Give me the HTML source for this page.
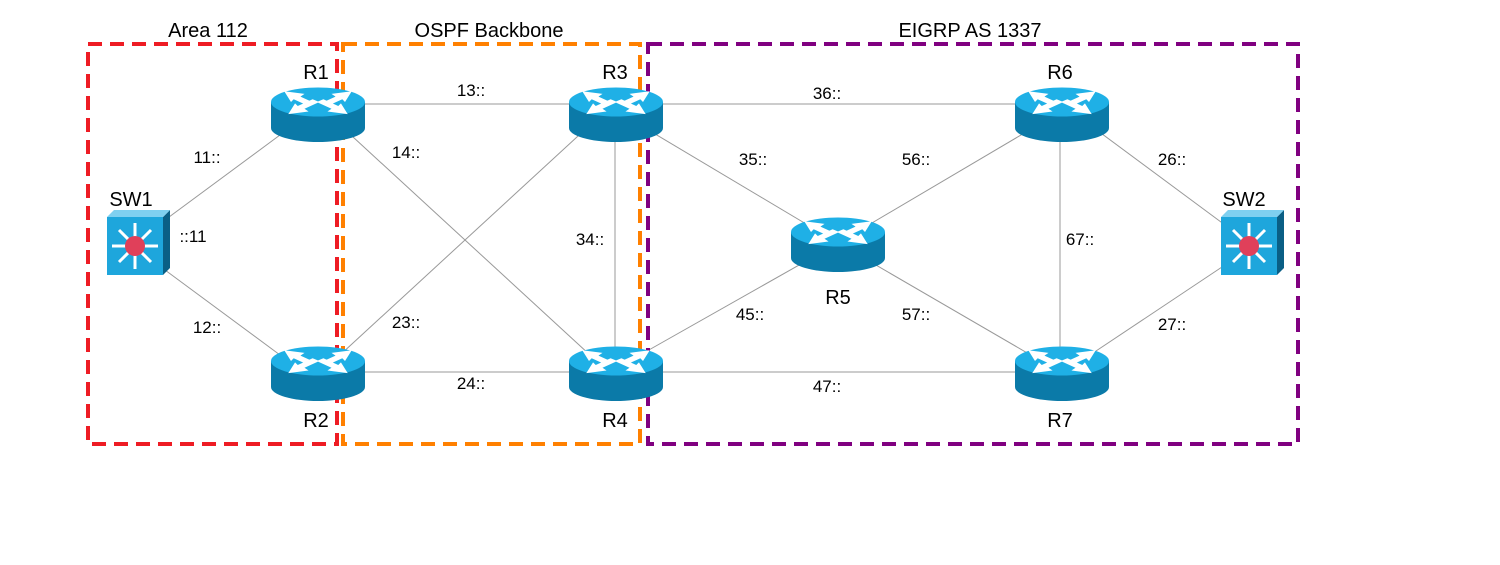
<!DOCTYPE html>
<html><head><meta charset="utf-8"><style>
html,body{margin:0;padding:0;background:#fff}
svg{display:block}
text{font-family:"Liberation Sans",sans-serif;fill:#000}
</style></head><body>
<svg width="1500" height="565" viewBox="0 0 1500 565" xmlns="http://www.w3.org/2000/svg">
<defs>
<g id="rt">
  <path d="M-47,0 L-47,26 A47,14 0 0 0 47,26 L47,0 Z" fill="#0b7aa8"/>
  <ellipse cx="0" cy="0" rx="47" ry="14.5" fill="#1fb0e6"/>
  <g fill="#fff" transform="scale(1.35)">
    <path d="M-25,-8 L-10,-6 L-13,-4 L-2,1 L-7,3 L-18,-2 L-20,0 Z"/>
    <path d="M25,-8 L10,-6 L13,-4 L2,1 L7,3 L18,-2 L20,0 Z"/>
    <path d="M-25,9 L-10,7 L-13,5 L-2,0 L-7,-2 L-18,3 L-20,1 Z" transform="translate(3,0)"/>
    <path d="M25,9 L10,7 L13,5 L2,0 L7,-2 L18,3 L20,1 Z" transform="translate(-3,0)"/>
  </g>
</g>
<g id="sw">
  <polygon points="28,0 35,-7 35,51 28,58" fill="#0a5f85"/>
  <polygon points="-28,0 -21,-7 35,-7 28,0" fill="#7fd0f0"/>
  <rect x="-28" y="0" width="56" height="58" fill="#1ea6dc"/>
  <g stroke="#fff" stroke-width="3" fill="none">
    <line x1="0" y1="29" x2="0" y2="6"/><line x1="0" y1="29" x2="0" y2="52"/>
    <line x1="0" y1="29" x2="-23" y2="29"/><line x1="0" y1="29" x2="23" y2="29"/>
    <line x1="0" y1="29" x2="-16" y2="13"/><line x1="0" y1="29" x2="16" y2="13"/>
    <line x1="0" y1="29" x2="-16" y2="45"/><line x1="0" y1="29" x2="16" y2="45"/>
  </g>
  <circle cx="0" cy="29" r="10" fill="#e0405a"/>
</g>
</defs>
<g stroke="#999" stroke-width="1">
  <line x1="316" y1="104" x2="615" y2="104"/>
  <line x1="615" y1="104" x2="1060" y2="104"/>
  <line x1="316" y1="372" x2="615" y2="372"/>
  <line x1="615" y1="372" x2="1060" y2="372"/>
  <line x1="280" y1="135" x2="165" y2="220"/>
  <line x1="280" y1="355" x2="165" y2="270"/>
  <line x1="340" y1="125" x2="590" y2="355"/>
  <line x1="590" y1="125" x2="340" y2="355"/>
  <line x1="615" y1="125" x2="615" y2="355"/>
  <line x1="640" y1="125" x2="838" y2="243"/>
  <line x1="640" y1="355" x2="838" y2="243"/>
  <line x1="1060" y1="112" x2="838" y2="243"/>
  <line x1="1060" y1="372" x2="838" y2="243"/>
  <line x1="1060" y1="112" x2="1060" y2="372"/>
  <line x1="1090" y1="125" x2="1225" y2="225"/>
  <line x1="1090" y1="355" x2="1225" y2="265"/>
</g>
<g fill="none" stroke-width="4" stroke-dasharray="14,8">
  <rect x="88" y="44" width="249" height="400" stroke="#ee1c24"/>
  <rect x="343" y="44" width="297" height="400" stroke="#ff8000"/>
  <rect x="648" y="44" width="650" height="400" stroke="#800080"/>
</g>
<use href="#rt" x="318" y="102"/>
<use href="#rt" x="616" y="102"/>
<use href="#rt" x="1062" y="102"/>
<use href="#rt" x="318" y="361"/>
<use href="#rt" x="616" y="361"/>
<use href="#rt" x="1062" y="361"/>
<use href="#rt" x="838" y="232"/>
<use href="#sw" x="135" y="217"/>
<use href="#sw" x="1249" y="217"/>
<g font-size="20" text-anchor="middle">
  <text x="208" y="37">Area 112</text>
  <text x="489" y="37">OSPF Backbone</text>
  <text x="970" y="37">EIGRP AS 1337</text>
  <text x="316" y="79">R1</text>
  <text x="615" y="79">R3</text>
  <text x="1060" y="79">R6</text>
  <text x="316" y="427">R2</text>
  <text x="615" y="427">R4</text>
  <text x="1060" y="427">R7</text>
  <text x="838" y="304">R5</text>
  <text x="131" y="206">SW1</text>
  <text x="1244" y="206">SW2</text>
</g>
<g font-size="17" text-anchor="middle">
  <text x="471" y="96">13::</text>
  <text x="827" y="99">36::</text>
  <text x="471" y="389">24::</text>
  <text x="827" y="392">47::</text>
  <text x="207" y="163">11::</text>
  <text x="207" y="333">12::</text>
  <text x="193" y="242">::11</text>
  <text x="406" y="158">14::</text>
  <text x="406" y="328">23::</text>
  <text x="590" y="245">34::</text>
  <text x="753" y="165">35::</text>
  <text x="750" y="320">45::</text>
  <text x="916" y="165">56::</text>
  <text x="916" y="320">57::</text>
  <text x="1080" y="245">67::</text>
  <text x="1172" y="165">26::</text>
  <text x="1172" y="330">27::</text>
</g>
</svg>
</body></html>
